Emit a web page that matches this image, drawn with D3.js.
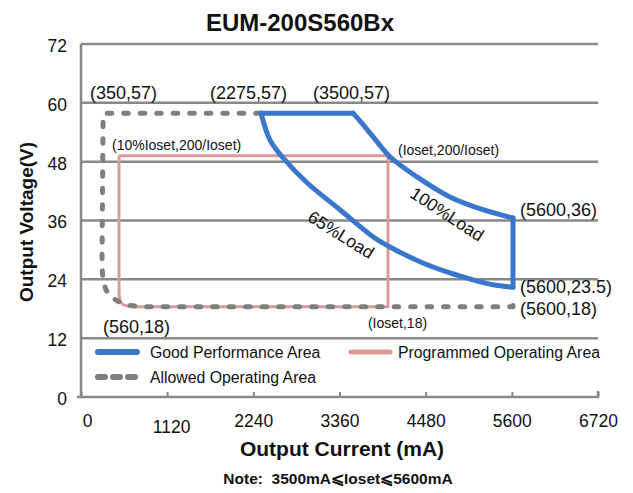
<!DOCTYPE html>
<html><head><meta charset="utf-8">
<script src="https://cdn.jsdelivr.net/npm/d3@7/dist/d3.min.js"></script>
<style>
html,body{margin:0;padding:0;background:#fff;}
svg text{font-family:"Liberation Sans",Arial,sans-serif;fill:#111;}
</style></head>
<body><svg id="c" width="633" height="493"></svg>
<script>
// ---- data ----
const xTicks = [0,1120,2240,3360,4480,5600,6720];
const yTicks = [0,12,24,36,48,60,72];
const goodTop = [[2340,57.9],[3536,57.9]];
const load100 = [[3536,57.9],[3626,56.3],[3795,53.1],[4016,49.0],[4367,44.9],[4796,40.8],[5225,38.2],[5615,36.5]];
const goodRight = [[5615,36.5],[5615,22.4]];
const load65 = [[5615,22.4],[5355,22.9],[5095,23.9],[4796,25.3],[4406,27.6],[4016,30.6],[3795,32.7],[3366,38.2],[2938,43.7],[2626,48.8],[2457,52.4],[2340,57.9]];
const programmed = [[494,49.2],[3990,49.2],[3990,18.4],[700,18.4],[600,18.55],[540,18.9],[510,19.5],[497,20.6],[494,22.4],[494,49.2]];
const allowed = [[2330,57.9],[325,57.9],[296,57.7],[287,57.0],[273,26.9],[285,23.9],[325,21.8],[416,20.1],[572,18.8],[767,18.4],[5615,18.4],[5615,20.2]];
const annotations = [
  {t:"(350,57)", x:117, y:62.0, s:18},
  {t:"(2275,57)", x:1677, y:62.0, s:18},
  {t:"(3500,57)", x:3016, y:62.0, s:18},
  {t:"(10%Ioset,200/Ioset)", x:403, y:51.4, s:14},
  {t:"(Ioset,200/Ioset)", x:4120, y:50.4, s:14},
  {t:"(5600,36)", x:5706, y:38.2, s:18},
  {t:"(5600,23.5)", x:5706, y:22.4, s:18},
  {t:"(5600,18)", x:5706, y:18.0, s:18},
  {t:"(560,18)", x:286, y:14.3, s:18},
  {t:"(Ioset,18)", x:3730, y:15.1, s:14}
];
const loadLabels = [
  {t:"100%Load", x:4760, y:37.3, a:33},
  {t:"65%Load", x:3380, y:33.1, a:32}
];
const legendItems = [
  {t:"Good Performance Area", k:"good"},
  {t:"Programmed Operating Area", k:"prog"},
  {t:"Allowed Operating Area", k:"allow"}
];

// ---- layout ----
const svg = d3.select("#c");
const x = d3.scaleLinear().domain([0,6720]).range([81,598]);
const y = d3.scaleLinear().domain([0,72]).range([397,44]);
const GRID = "#898989", BLUE = "#3a77cc", PINK = "#df9898", GRAY = "#7f7f7f";

// title
svg.append("text").attr("x",300).attr("y",31).attr("text-anchor","middle")
  .attr("font-size",24).attr("font-weight","bold").text("EUM-200S560Bx");

// gridlines
svg.append("g").selectAll("line").data(yTicks.filter(d=>d>0)).join("line")
  .attr("x1",x(0)).attr("x2",x(6720)).attr("y1",d=>y(d)).attr("y2",d=>y(d))
  .attr("stroke",GRID).attr("stroke-width",2.5);

// axes
const ax = svg.append("g").attr("transform",`translate(0,${y(0)})`)
  .call(d3.axisBottom(x).tickValues(xTicks).tickSize(-5).tickFormat(d3.format("d")));
ax.select(".domain").attr("stroke",GRID).attr("stroke-width",2.5).attr("d",`M${x(0)},0H${x(6720)}V-6`);
ax.selectAll(".tick line").attr("stroke",GRID).attr("stroke-width",2);
ax.selectAll(".tick text").attr("font-size",17.5).attr("fill","#111").attr("y",18)
  .attr("font-family","Liberation Sans, Arial, sans-serif")
  .attr("dx",d=>d===0?6:(d===1120?4:0)).attr("dy",d=>d===1120?"1.0em":"0.71em");

const ay = svg.append("g").attr("transform",`translate(${x(0)},0)`)
  .call(d3.axisLeft(y).tickValues(yTicks).tickSize(0).tickPadding(14));
ay.select(".domain").attr("stroke",GRID).attr("stroke-width",2.5).attr("d",`M0,${y(72)}V${y(0)}H-4`);
ay.selectAll(".tick text").attr("font-size",17.5).attr("fill","#111").attr("dy","0.42em")
  .attr("font-family","Liberation Sans, Arial, sans-serif");

// axis titles
svg.append("text").attr("transform","translate(33,222) rotate(-90)").attr("text-anchor","middle")
  .attr("font-size",19).attr("font-weight","bold").text("Output Voltage(V)");
svg.append("text").attr("x",342).attr("y",456).attr("text-anchor","middle")
  .attr("font-size",21).attr("font-weight","bold").text("Output Current (mA)");
svg.append("text").attr("x",338).attr("y",484).attr("text-anchor","middle")
  .attr("font-size",15.5).attr("font-weight","bold").text("Note:\u00A0 3500mA\u2A7DIoset\u2A7D5600mA");

const line = d3.line().x(d=>x(d[0])).y(d=>y(d[1]));
const smooth = d3.line().x(d=>x(d[0])).y(d=>y(d[1])).curve(d3.curveCatmullRom.alpha(0.5));

// programmed
svg.append("path").attr("d",line(programmed)).attr("fill","none").attr("stroke",PINK)
  .attr("stroke-width",3).attr("stroke-linejoin","miter");
// allowed
svg.append("path").attr("d",line(allowed)).attr("fill","none").attr("stroke",GRAY)
  .attr("stroke-width",5).attr("stroke-linecap","round").attr("stroke-linejoin","round")
  .attr("stroke-dasharray","4.5,12");
// good
const gg = svg.append("g").attr("fill","none").attr("stroke",BLUE).attr("stroke-width",5)
  .attr("stroke-linecap","round").attr("stroke-linejoin","round");
gg.append("path").attr("d",line(goodTop));
gg.append("path").attr("d",smooth(load100));
gg.append("path").attr("d",line(goodRight));
gg.append("path").attr("d",smooth(load65));

// annotations
svg.append("g").selectAll("text").data(annotations).join("text")
  .attr("x",d=>x(d.x)).attr("y",d=>y(d.y)).attr("text-anchor","start")
  .attr("font-size",d=>d.s).attr("dy","0.35em").text(d=>d.t);
svg.append("g").selectAll("text").data(loadLabels).join("text")
  .attr("transform",d=>`translate(${x(d.x)},${y(d.y)}) rotate(${d.a})`)
  .attr("text-anchor","middle").attr("dy","0.35em").attr("font-size",17.5).text(d=>d.t);

// legend
const lg = svg.append("g");
const pos = [[95,352],[348,352],[95,377]];
legendItems.forEach((it,i)=>{
  const [lx,ly] = pos[i];
  const sw = lg.append("line").attr("x1",lx+3).attr("x2",lx+42).attr("y1",ly).attr("y2",ly)
    .attr("stroke-linecap","round");
  if(it.k==="good") sw.attr("stroke",BLUE).attr("stroke-width",6);
  if(it.k==="prog") sw.attr("stroke",PINK).attr("stroke-width",5);
  if(it.k==="allow") sw.attr("stroke",GRAY).attr("stroke-width",6).attr("stroke-dasharray","7,8");
  lg.append("text").attr("x",lx+(it.k==="prog"?50:55)).attr("y",ly).attr("dy","0.35em")
    .attr("font-size",15.8).text(it.t);
});
</script></body></html>
